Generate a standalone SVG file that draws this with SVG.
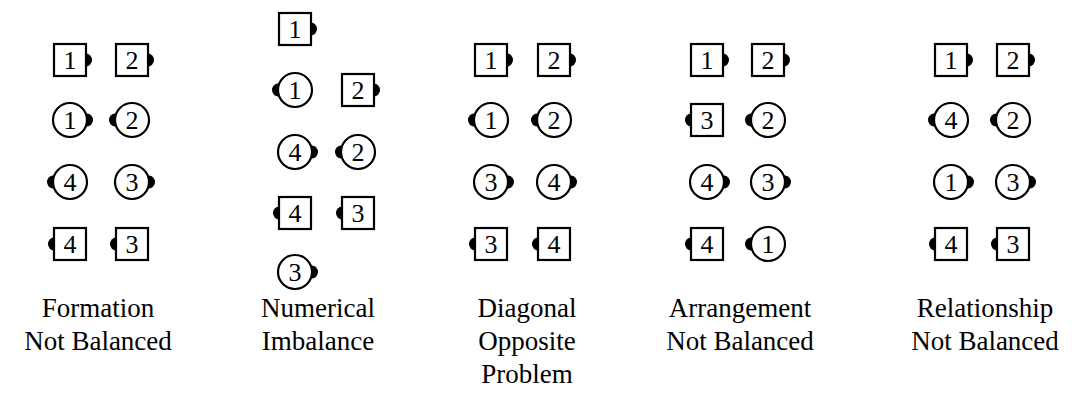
<svg xmlns="http://www.w3.org/2000/svg" xmlns:xlink="http://www.w3.org/1999/xlink" width="1076" height="399" viewBox="0 0 1076 399">
<style>
.box{fill:#fff;stroke:#000;stroke-width:2.2}
.ring{fill:#fff;stroke:#000;stroke-width:2.2}
.num{font-family:"Liberation Serif","DejaVu Serif",serif;font-size:26px;text-anchor:middle;fill:#000}
.cap{font-family:"Liberation Serif","DejaVu Serif",serif;font-size:27px;text-anchor:middle;fill:#000}
.knob{fill:#000}
</style>
<defs>
<path id="kR" class="knob" d="M0,-6.5 A6,6.5 0 0 1 0,6.5 Z"/>
<path id="kL" class="knob" d="M0,-6.5 A6,6.5 0 0 0 0,6.5 Z"/>
</defs>
<g id="connectors"></g>

<!-- Column 1: Formation Not Balanced -->
<g id="f1-b1" transform="translate(70,60)"><rect class="box" x="-16" y="-16" width="32" height="32"/><text class="num" y="9">1</text><use xlink:href="#kR" x="16"/></g>
<g id="f1-b2" transform="translate(132,60)"><rect class="box" x="-16" y="-16" width="32" height="32"/><text class="num" y="9">2</text><use xlink:href="#kR" x="16"/></g>
<g id="f1-c1" transform="translate(70,120)"><circle class="ring" r="17"/><text class="num" y="9">1</text><use xlink:href="#kR" x="17"/></g>
<g id="f1-c2" transform="translate(132,120)"><circle class="ring" r="17"/><text class="num" y="9">2</text><use xlink:href="#kL" x="-17"/></g>
<g id="f1-c4" transform="translate(70,182)"><circle class="ring" r="17"/><text class="num" y="9">4</text><use xlink:href="#kL" x="-17"/></g>
<g id="f1-c3" transform="translate(132,182)"><circle class="ring" r="17"/><text class="num" y="9">3</text><use xlink:href="#kR" x="17"/></g>
<g id="f1-b4" transform="translate(70,244)"><rect class="box" x="-16" y="-16" width="32" height="32"/><text class="num" y="9">4</text><use xlink:href="#kL" x="-16"/></g>
<g id="f1-b3" transform="translate(132,244)"><rect class="box" x="-16" y="-16" width="32" height="32"/><text class="num" y="9">3</text><use xlink:href="#kL" x="-16"/></g>
<g id="f1-label"><text class="cap" x="98" y="317">Formation</text><text class="cap" x="98" y="350">Not Balanced</text></g>

<!-- Column 2: Numerical Imbalance -->
<g id="n-b1" transform="translate(295,29)"><rect class="box" x="-16" y="-16" width="32" height="32"/><text class="num" y="9">1</text><use xlink:href="#kR" x="16"/></g>
<g id="n-c1" transform="translate(295,90)"><circle class="ring" r="17"/><text class="num" y="9">1</text><use xlink:href="#kL" x="-17"/></g>
<g id="n-b2" transform="translate(358,90)"><rect class="box" x="-16" y="-16" width="32" height="32"/><text class="num" y="9">2</text><use xlink:href="#kR" x="16"/></g>
<g id="n-c4" transform="translate(295,152)"><circle class="ring" r="17"/><text class="num" y="9">4</text><use xlink:href="#kR" x="17"/></g>
<g id="n-c2" transform="translate(358,152)"><circle class="ring" r="17"/><text class="num" y="9">2</text><use xlink:href="#kL" x="-17"/></g>
<g id="n-b4" transform="translate(295,213)"><rect class="box" x="-16" y="-16" width="32" height="32"/><text class="num" y="9">4</text><use xlink:href="#kL" x="-16"/></g>
<g id="n-b3" transform="translate(358,213)"><rect class="box" x="-16" y="-16" width="32" height="32"/><text class="num" y="9">3</text><use xlink:href="#kL" x="-16"/></g>
<g id="n-c3" transform="translate(295,272)"><circle class="ring" r="17"/><text class="num" y="9">3</text><use xlink:href="#kR" x="17"/></g>
<g id="n-label"><text class="cap" x="318" y="317">Numerical</text><text class="cap" x="318" y="350">Imbalance</text></g>

<!-- Column 3: Diagonal Opposite Problem -->
<g id="d-b1" transform="translate(491,60)"><rect class="box" x="-16" y="-16" width="32" height="32"/><text class="num" y="9">1</text><use xlink:href="#kR" x="16"/></g>
<g id="d-b2" transform="translate(554,60)"><rect class="box" x="-16" y="-16" width="32" height="32"/><text class="num" y="9">2</text><use xlink:href="#kR" x="16"/></g>
<g id="d-c1" transform="translate(491,120)"><circle class="ring" r="17"/><text class="num" y="9">1</text><use xlink:href="#kL" x="-17"/></g>
<g id="d-c2" transform="translate(554,120)"><circle class="ring" r="17"/><text class="num" y="9">2</text><use xlink:href="#kL" x="-17"/></g>
<g id="d-c3" transform="translate(491,182)"><circle class="ring" r="17"/><text class="num" y="9">3</text><use xlink:href="#kR" x="17"/></g>
<g id="d-c4" transform="translate(554,182)"><circle class="ring" r="17"/><text class="num" y="9">4</text><use xlink:href="#kR" x="17"/></g>
<g id="d-b3" transform="translate(491,244)"><rect class="box" x="-16" y="-16" width="32" height="32"/><text class="num" y="9">3</text><use xlink:href="#kL" x="-16"/></g>
<g id="d-b4" transform="translate(554,244)"><rect class="box" x="-16" y="-16" width="32" height="32"/><text class="num" y="9">4</text><use xlink:href="#kL" x="-16"/></g>
<g id="d-label"><text class="cap" x="527" y="317">Diagonal</text><text class="cap" x="527" y="350">Opposite</text><text class="cap" x="527" y="383">Problem</text></g>

<!-- Column 4: Arrangement Not Balanced -->
<g id="a-b1" transform="translate(707,60)"><rect class="box" x="-16" y="-16" width="32" height="32"/><text class="num" y="9">1</text><use xlink:href="#kR" x="16"/></g>
<g id="a-b2" transform="translate(768,60)"><rect class="box" x="-16" y="-16" width="32" height="32"/><text class="num" y="9">2</text><use xlink:href="#kR" x="16"/></g>
<g id="a-b3" transform="translate(707,120)"><rect class="box" x="-16" y="-16" width="32" height="32"/><text class="num" y="9">3</text><use xlink:href="#kL" x="-16"/></g>
<g id="a-c2" transform="translate(768,120)"><circle class="ring" r="17"/><text class="num" y="9">2</text><use xlink:href="#kL" x="-17"/></g>
<g id="a-c4" transform="translate(707,182)"><circle class="ring" r="17"/><text class="num" y="9">4</text><use xlink:href="#kR" x="17"/></g>
<g id="a-c3" transform="translate(768,182)"><circle class="ring" r="17"/><text class="num" y="9">3</text><use xlink:href="#kR" x="17"/></g>
<g id="a-b4" transform="translate(707,244)"><rect class="box" x="-16" y="-16" width="32" height="32"/><text class="num" y="9">4</text><use xlink:href="#kL" x="-16"/></g>
<g id="a-c1" transform="translate(768,244)"><circle class="ring" r="17"/><text class="num" y="9">1</text><use xlink:href="#kL" x="-17"/></g>
<g id="a-label"><text class="cap" x="740" y="317">Arrangement</text><text class="cap" x="740" y="350">Not Balanced</text></g>

<!-- Column 5: Relationship Not Balanced -->
<g id="r-b1" transform="translate(951,60)"><rect class="box" x="-16" y="-16" width="32" height="32"/><text class="num" y="9">1</text><use xlink:href="#kR" x="16"/></g>
<g id="r-b2" transform="translate(1013,60)"><rect class="box" x="-16" y="-16" width="32" height="32"/><text class="num" y="9">2</text><use xlink:href="#kR" x="16"/></g>
<g id="r-c4" transform="translate(951,120)"><circle class="ring" r="17"/><text class="num" y="9">4</text><use xlink:href="#kL" x="-17"/></g>
<g id="r-c2" transform="translate(1013,120)"><circle class="ring" r="17"/><text class="num" y="9">2</text><use xlink:href="#kL" x="-17"/></g>
<g id="r-c1" transform="translate(951,182)"><circle class="ring" r="17"/><text class="num" y="9">1</text><use xlink:href="#kR" x="17"/></g>
<g id="r-c3" transform="translate(1013,182)"><circle class="ring" r="17"/><text class="num" y="9">3</text><use xlink:href="#kR" x="17"/></g>
<g id="r-b4" transform="translate(951,244)"><rect class="box" x="-16" y="-16" width="32" height="32"/><text class="num" y="9">4</text><use xlink:href="#kL" x="-16"/></g>
<g id="r-b3" transform="translate(1013,244)"><rect class="box" x="-16" y="-16" width="32" height="32"/><text class="num" y="9">3</text><use xlink:href="#kL" x="-16"/></g>
<g id="r-label"><text class="cap" x="985" y="317">Relationship</text><text class="cap" x="985" y="350">Not Balanced</text></g>
</svg>
